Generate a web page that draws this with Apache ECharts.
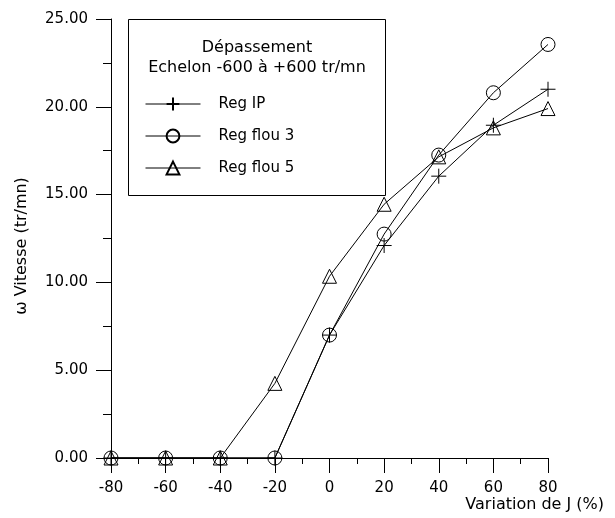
<!DOCTYPE html>
<html>
<head>
<meta charset="utf-8">
<script src="https://cdn.jsdelivr.net/npm/echarts@6/dist/echarts.min.js"></script>
<style>
html,body{margin:0;padding:0;background:#fff;}
#chart{width:615px;height:518px;}
</style>
</head>
<body>
<div id="chart"></div>
<script>
const xValues = [-80, -60, -40, -20, 0, 20, 40, 60, 80];
const regIP = [0, 0, 0, 0, 7.0, 12.1, 16.05, 18.95, 21.0];
const regFlou3 = [0, 0, 0, 0, 7.0, 12.75, 17.25, 20.8, 23.55];
const regFlou5 = [0, 0, 0, 4.25, 10.35, 14.45, 17.15, 18.8, 19.9];
const seriesNames = ['Reg IP', 'Reg flou 3', 'Reg flou 5'];
const legendTitle = ['Dépassement', 'Echelon -600 à +600 tr/mn'];
const xName = 'Variation de J (%)';
const yName = 'ω Vitesse (tr/mn)';

const FONT = '"DejaVu Sans", sans-serif';
const pair = arr => xValues.map((x, i) => [x, arr[i]]);
const plusPath = 'path://M5,0L5,10M0,5L10,5';
const mk = (name, data, symbol, size) => ({
  name, type: 'line', data: pair(data), symbol, symbolSize: size,
  showAllSymbol: true,
  lineStyle: {color: '#000', width: 1},
  itemStyle: {color: 'rgba(0,0,0,0)', borderColor: '#000', borderWidth: 1},
  emphasis: {disabled: true},
  z: 3
});

const chart = echarts.init(document.getElementById('chart'));
chart.setOption({
  animation: false,
  backgroundColor: '#fff',
  textStyle: {fontFamily: FONT, color: '#000'},
  title: {
    text: xName, right: 11, top: 497, padding: 0,
    textStyle: {fontFamily: FONT, fontSize: 16, fontWeight: 'normal', color: '#000'}
  },
  grid: {left: 111, right: 67, top: 19, bottom: 60, containLabel: false, outerBoundsMode: 'none'},
  xAxis: {
    type: 'value', min: -80, max: 80, interval: 20,
    axisLine: {onZero: false, lineStyle: {color: '#000', width: 1}},
    axisTick: {show: true, inside: false, length: 15, lineStyle: {color: '#000'}},
    minorTick: {show: true, splitNumber: 2, length: 6, lineStyle: {color: '#000'}},
    axisLabel: {fontFamily: FONT, fontSize: 15, color: '#000', margin: 23},
    splitLine: {show: false}
  },
  yAxis: {
    type: 'value', min: 0, max: 25, interval: 5,
    name: yName, nameLocation: 'middle', nameGap: 81, nameRotate: 90,
    nameTextStyle: {fontFamily: FONT, fontSize: 16, color: '#000', padding: [0, 15, 0, 0]},
    axisLine: {onZero: false, lineStyle: {color: '#000', width: 1}},
    axisTick: {show: true, inside: false, length: 15, lineStyle: {color: '#000'}},
    minorTick: {show: true, splitNumber: 2, length: 8, lineStyle: {color: '#000'}},
    axisLabel: {fontFamily: FONT, fontSize: 15, color: '#000', margin: 23, formatter: v => v.toFixed(2)},
    splitLine: {show: false}
  },
  legend: {
    orient: 'vertical', left: 145, top: 96, padding: 0,
    itemWidth: 55, itemHeight: 16, itemGap: 16,
    lineStyle: {width: 1, color: '#000'},
    textStyle: {fontFamily: FONT, fontSize: 15, color: '#000', lineHeight: 16, padding: [0, 0, 0, 13]},
    data: seriesNames,
    selectedMode: false
  },
  graphic: [
    {type: 'rect', shape: {x: 128.5, y: 19.5, width: 257, height: 176}, style: {fill: '#fff', stroke: '#000', lineWidth: 1}, z: 1},
    {type: 'text', x: 257, y: 48, style: {text: legendTitle[0], font: '16px ' + FONT, fill: '#000', textAlign: 'center', textVerticalAlign: 'middle'}, z: 2},
    {type: 'text', x: 257, y: 68, style: {text: legendTitle[1], font: '16px ' + FONT, fill: '#000', textAlign: 'center', textVerticalAlign: 'middle'}, z: 2}
  ],
  series: [
    mk(seriesNames[0], regIP, plusPath, 15),
    mk(seriesNames[1], regFlou3, 'circle', 14),
    mk(seriesNames[2], regFlou5, 'triangle', 14)
  ]
});
</script>
</body>
</html>
